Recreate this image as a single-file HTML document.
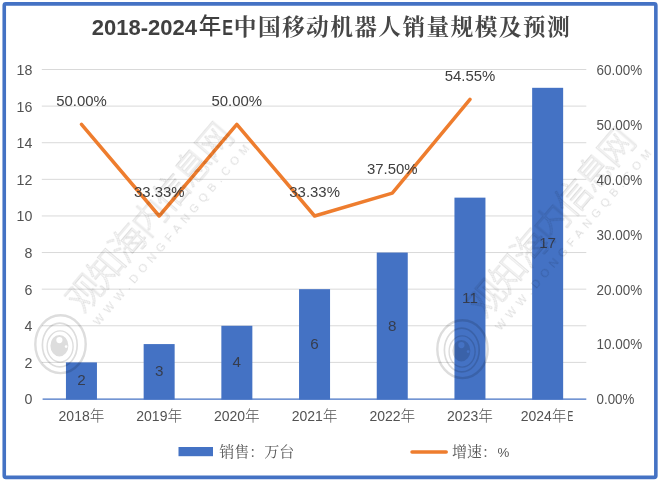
<!DOCTYPE html>
<html lang="zh-CN"><head><meta charset="utf-8"><title>2018-2024年E中国移动机器人销量规模及预测</title>
<style>
html,body{margin:0;padding:0;background:#fff;}
body{width:660px;height:482px;overflow:hidden;}
svg{display:block;}
text{font-family:"Liberation Sans","Noto Sans CJK SC",sans-serif;}
.ax{font-size:14.2px;fill:#525252;}
.dl{font-size:15.2px;fill:#404040;}
.song{font-family:"Liberation Sans","Noto Serif CJK SC",serif;}
.wm{font-family:"Liberation Sans","Noto Sans CJK SC",sans-serif;fill:none;stroke:#000000;stroke-width:0.85;font-weight:300;}
</style></head><body>
<svg width="660" height="482" viewBox="0 0 660 482">
<rect x="0" y="0" width="660" height="482" fill="#ffffff"/>

<line x1="41.8" x2="586.3" y1="362.39" y2="362.39" stroke="#d9d9d9" stroke-width="1"/>
<line x1="41.8" x2="586.3" y1="325.78" y2="325.78" stroke="#d9d9d9" stroke-width="1"/>
<line x1="41.8" x2="586.3" y1="289.17" y2="289.17" stroke="#d9d9d9" stroke-width="1"/>
<line x1="41.8" x2="586.3" y1="252.56" y2="252.56" stroke="#d9d9d9" stroke-width="1"/>
<line x1="41.8" x2="586.3" y1="215.94" y2="215.94" stroke="#d9d9d9" stroke-width="1"/>
<line x1="41.8" x2="586.3" y1="179.33" y2="179.33" stroke="#d9d9d9" stroke-width="1"/>
<line x1="41.8" x2="586.3" y1="142.72" y2="142.72" stroke="#d9d9d9" stroke-width="1"/>
<line x1="41.8" x2="586.3" y1="106.11" y2="106.11" stroke="#d9d9d9" stroke-width="1"/>
<line x1="41.8" x2="586.3" y1="69.50" y2="69.50" stroke="#d9d9d9" stroke-width="1"/>
<rect x="65.95" y="362.39" width="31.0" height="37.21" fill="#4472c4"/>
<rect x="143.65" y="344.08" width="31.0" height="55.52" fill="#4472c4"/>
<rect x="221.35" y="325.78" width="31.0" height="73.82" fill="#4472c4"/>
<rect x="299.05" y="289.17" width="31.0" height="110.43" fill="#4472c4"/>
<rect x="376.75" y="252.56" width="31.0" height="147.04" fill="#4472c4"/>
<rect x="454.45" y="197.64" width="31.0" height="201.96" fill="#4472c4"/>
<rect x="532.15" y="87.81" width="31.0" height="311.79" fill="#4472c4"/>
<line x1="42.6" x2="586.3" y1="399.1" y2="399.1" stroke="#4472c4" stroke-width="1.1"/>
<text class="ax" x="32.4" y="404.40" text-anchor="end">0</text>
<text class="ax" x="32.4" y="367.79" text-anchor="end">2</text>
<text class="ax" x="32.4" y="331.18" text-anchor="end">4</text>
<text class="ax" x="32.4" y="294.57" text-anchor="end">6</text>
<text class="ax" x="32.4" y="257.96" text-anchor="end">8</text>
<text class="ax" x="32.4" y="221.34" text-anchor="end">10</text>
<text class="ax" x="32.4" y="184.73" text-anchor="end">12</text>
<text class="ax" x="32.4" y="148.12" text-anchor="end">14</text>
<text class="ax" x="32.4" y="111.51" text-anchor="end">16</text>
<text class="ax" x="32.4" y="74.90" text-anchor="end">18</text>
<text class="ax" x="596.6" y="404.40" textLength="37.8" lengthAdjust="spacingAndGlyphs">0.00%</text>
<text class="ax" x="596.6" y="349.48" textLength="45.6" lengthAdjust="spacingAndGlyphs">10.00%</text>
<text class="ax" x="596.6" y="294.57" textLength="45.6" lengthAdjust="spacingAndGlyphs">20.00%</text>
<text class="ax" x="596.6" y="239.65" textLength="45.6" lengthAdjust="spacingAndGlyphs">30.00%</text>
<text class="ax" x="596.6" y="184.73" textLength="45.6" lengthAdjust="spacingAndGlyphs">40.00%</text>
<text class="ax" x="596.6" y="129.82" textLength="45.6" lengthAdjust="spacingAndGlyphs">50.00%</text>
<text class="ax" x="596.6" y="74.90" textLength="45.6" lengthAdjust="spacingAndGlyphs">60.00%</text>
<text class="ax" x="81.5" y="420.9" text-anchor="middle" style="font-size:14px">2018<tspan font-size="14.67" font-weight="300">年</tspan></text>
<text class="ax" x="159.2" y="420.9" text-anchor="middle" style="font-size:14px">2019<tspan font-size="14.67" font-weight="300">年</tspan></text>
<text class="ax" x="236.8" y="420.9" text-anchor="middle" style="font-size:14px">2020<tspan font-size="14.67" font-weight="300">年</tspan></text>
<text class="ax" x="314.6" y="420.9" text-anchor="middle" style="font-size:14px">2021<tspan font-size="14.67" font-weight="300">年</tspan></text>
<text class="ax" x="392.3" y="420.9" text-anchor="middle" style="font-size:14px">2022<tspan font-size="14.67" font-weight="300">年</tspan></text>
<text class="ax" x="470.0" y="420.9" text-anchor="middle" style="font-size:14px">2023<tspan font-size="14.67" font-weight="300">年</tspan></text>
<text class="ax" x="520.7" y="420.9" style="font-size:14px">2024<tspan font-size="14.67" font-weight="300">年</tspan></text>
<text class="ax" x="567.6" y="420.9" style="font-size:14px" textLength="5.8" lengthAdjust="spacingAndGlyphs">E</text>
<polyline fill="none" stroke="#ee7d2e" stroke-width="3.5" stroke-linecap="round" stroke-linejoin="round" points="81.5,124.4 159.2,216.0 236.8,124.4 314.6,216.0 392.3,193.1 470.0,99.4"/>
<text class="dl" x="81.5" y="105.8" text-anchor="middle" textLength="50.6" lengthAdjust="spacingAndGlyphs">50.00%</text>
<text class="dl" x="159.2" y="197.4" text-anchor="middle" textLength="50.6" lengthAdjust="spacingAndGlyphs">33.33%</text>
<text class="dl" x="236.8" y="105.8" text-anchor="middle" textLength="50.6" lengthAdjust="spacingAndGlyphs">50.00%</text>
<text class="dl" x="314.6" y="197.4" text-anchor="middle" textLength="50.6" lengthAdjust="spacingAndGlyphs">33.33%</text>
<text class="dl" x="392.3" y="173.6" text-anchor="middle" textLength="50.6" lengthAdjust="spacingAndGlyphs">37.50%</text>
<text class="dl" x="470.0" y="80.6" text-anchor="middle" textLength="50.6" lengthAdjust="spacingAndGlyphs">54.55%</text>
<text class="dl" x="81.5" y="385.4" text-anchor="middle" fill="#363d4e" style="fill:#363d4e">2</text>
<text class="dl" x="159.2" y="376.2" text-anchor="middle" fill="#363d4e" style="fill:#363d4e">3</text>
<text class="dl" x="236.8" y="367.1" text-anchor="middle" fill="#363d4e" style="fill:#363d4e">4</text>
<text class="dl" x="314.6" y="348.8" text-anchor="middle" fill="#363d4e" style="fill:#363d4e">6</text>
<text class="dl" x="392.3" y="330.5" text-anchor="middle" fill="#363d4e" style="fill:#363d4e">8</text>
<text class="dl" x="470.0" y="303.0" text-anchor="middle" fill="#363d4e" style="fill:#363d4e">11</text>
<text class="dl" x="547.6" y="248.1" text-anchor="middle" fill="#363d4e" style="fill:#363d4e">17</text>
<g font-weight="bold" fill="#404040">
<text x="91.8" y="34.9" font-size="22">2018-2024</text>
<text x="198.8" y="34.3" font-size="22.5" font-weight="500">年</text>
<text x="222.3" y="34.9" font-size="22.4" textLength="10.8" lengthAdjust="spacingAndGlyphs">E</text>
<text class="song" x="233.8" y="34.6" font-size="22.7" letter-spacing="1.4" font-weight="700" fill="#464646">中国移动机器人销量规模及预测</text>
</g>
<rect x="178.5" y="447" width="34.5" height="9.2" fill="#4472c4"/>
<text class="song" x="219.3" y="457" font-size="15" fill="#595959">销售：万台</text>
<line x1="412" x2="446.2" y1="452.1" y2="452.1" stroke="#ee7d2e" stroke-width="3.5" stroke-linecap="round"/>
<text class="song" x="452" y="457" font-size="15" fill="#595959">增速：<tspan font-size="13.3" dx="0.6">%</tspan></text>
<g opacity="0.135" transform="translate(0,0)">
<ellipse cx="60.5" cy="344.2" rx="25.2" ry="28.9" fill="none" stroke="#000000" stroke-width="2.4"/>
<ellipse cx="59.8" cy="345" rx="17.4" ry="21.8" fill="none" stroke="#000000" stroke-width="1.7"/>
<ellipse cx="60.1" cy="346.5" rx="13" ry="15.6" fill="none" stroke="#000000" stroke-width="1.4"/>
<path fill="#000000" fill-rule="evenodd" d="M50.4,345.7a9,10.8 0 1,0 18,0a9,10.8 0 1,0 -18,0z M56.3,340.1a3.1,3.1 0 1,0 6.2,0a3.1,3.1 0 1,0 -6.2,0z M64.7,346.6a1.4,1.4 0 1,0 2.8,0a1.4,1.4 0 1,0 -2.8,0z"/>
<g transform="translate(149.6,217.1) rotate(-49.5)">
<text class="wm" x="-0.9" y="13" font-size="35" letter-spacing="-1.8" text-anchor="middle">观知海内信息网</text>
<text x="3" y="32.2" font-size="11.3" fill="#000000" text-anchor="middle" letter-spacing="5.2">WWW.DONGFANGQB.COM</text>
</g>
</g>
<g opacity="0.135" transform="translate(402,5)">
<ellipse cx="60.5" cy="344.2" rx="25.2" ry="28.9" fill="none" stroke="#000000" stroke-width="2.4"/>
<ellipse cx="59.8" cy="345" rx="17.4" ry="21.8" fill="none" stroke="#000000" stroke-width="1.7"/>
<ellipse cx="60.1" cy="346.5" rx="13" ry="15.6" fill="none" stroke="#000000" stroke-width="1.4"/>
<path fill="#000000" fill-rule="evenodd" d="M50.4,345.7a9,10.8 0 1,0 18,0a9,10.8 0 1,0 -18,0z M56.3,340.1a3.1,3.1 0 1,0 6.2,0a3.1,3.1 0 1,0 -6.2,0z M64.7,346.6a1.4,1.4 0 1,0 2.8,0a1.4,1.4 0 1,0 -2.8,0z"/>
<g transform="translate(149.6,217.1) rotate(-49.5)">
<text class="wm" x="-0.9" y="13" font-size="35" letter-spacing="-1.8" text-anchor="middle">观知海内信息网</text>
<text x="3" y="32.2" font-size="11.3" fill="#000000" text-anchor="middle" letter-spacing="5.2">WWW.DONGFANGQB.COM</text>
</g>
</g>
<rect x="4.25" y="3.9" width="651.6" height="473.45" rx="1.6" ry="1.6" fill="none" stroke="#4472c4" stroke-width="3.6"/>
</svg></body></html>
